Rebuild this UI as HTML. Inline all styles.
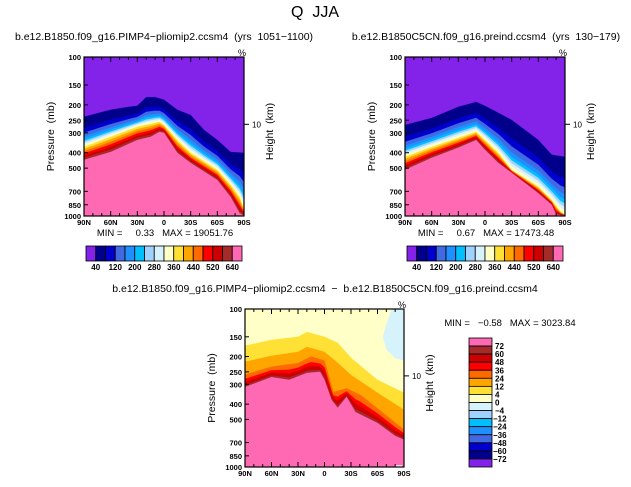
<!DOCTYPE html>
<html><head><meta charset="utf-8"><style>
html,body{margin:0;padding:0;background:#fff;width:631px;height:487px;overflow:hidden}
svg{display:block;font-family:"Liberation Sans",sans-serif}
text{white-space:pre}
</style></head><body>
<svg id="fig" width="631" height="487" viewBox="0 0 631 487" xmlns="http://www.w3.org/2000/svg">
<text x="315" y="17" font-size="16" text-anchor="middle">Q  JJA</text>
<text x="164" y="40" font-size="10.5" text-anchor="middle">b.e12.B1850.f09_g16.PIMP4−pliomip2.ccsm4  (yrs  1051−1100)</text>
<text x="486" y="40" font-size="10.5" text-anchor="middle">b.e12.B1850C5CN.f09_g16.preind.ccsm4  (yrs  130−179)</text>
<text x="325" y="292" font-size="10.5" text-anchor="middle">b.e12.B1850.f09_g16.PIMP4−pliomip2.ccsm4  −  b.e12.B1850C5CN.f09_g16.preind.ccsm4</text>
<text x="165" y="236" font-size="9.5" text-anchor="middle">MIN =     0.33   MAX = 19051.76</text>
<text x="486" y="236" font-size="9.5" text-anchor="middle">MIN =     0.67   MAX = 17473.48</text>
<text x="510" y="326" font-size="9.5" text-anchor="middle">MIN =   −0.58   MAX = 3023.84</text>
</svg>
<script>
// ---- data ----
const seqColors = ["#8322e8","#00008b","#0000cd","#4169e1","#1e90ff","#00bfff","#a0d2ff","#d6f3fc","#ffffc8","#ffe135","#ffa500","#ff6a00","#ff0000","#cc0000","#a52a2a","#ff69b4"];
const seqLabels = ["40","120","200","280","360","440","520","640"];
const diffColors = ["#ff69b4","#a52a2a","#cc0000","#ff0000","#ff6a00","#ffa500","#ffe135","#ffffc8","#d6f3fc","#a0d2ff","#00bfff","#1e90ff","#4169e1","#0000cd","#00008b","#8322e8"];
const diffLabels = ["72","60","48","36","24","12","4","0","−4","−12","−24","−36","−48","−60","−72"];
const pTicks = [100,150,200,250,300,400,500,700,850,1000];
const latTicks = [90,60,30,0,-30,-60,-90];
const latTickLabels = ["90N","60N","30N","0","30S","60S","90S"];
// panel 1 contours (lat, pressure mb)
const p1c40Lat = [90,60,40,30,20,10,0,-15,-30,-45,-60,-75,-90];
const p1c40P   = [238,215,206,203,179,179,186,215,232,288,333,396,401];
const p1c360Lat = [90,60,30,5,0,-15,-30,-60,-75,-85,-90];
const p1c360P   = [368,318,275,256,268,333,401,513,638,760,900];
const p1c640Lat = [90,60,30,15,5,0,-15,-30,-60,-75,-85,-90];
const p1c640P   = [444,396,333,318,296,300,401,464,594,760,960,1000];
// panel 2 contours
const p2c40Lat = [90,60,30,10,0,-30,-60,-75,-90];
const p2c40P   = [268,242,206,192,203,249,333,412,425];
const p2c360Lat = [90,60,30,10,0,-15,-30,-60,-75,-85,-90];
const p2c360P   = [425,368,323,296,333,401,513,656,794,940,980];
const p2c640Lat = [90,60,30,10,0,-15,-30,-60,-75,-80,-90];
const p2c640P   = [513,431,372,333,384,464,535,720,850,980,1000];
// panel 3 difference contours
const d4Lat = [90,60,30,20,0,-15,-30,-60,-90];
const d4P   = [171,157,150,140,150,164,204,281,339];
const d12Lat = [90,60,30,20,0,-15,-30,-60,-90];
const d12P   = [216,198,187,174,187,219,262,339,435];
const d24Lat = [90,60,30,15,0,-10,-25,-40,-60,-90];
const d24P   = [260,232,220,200,212,335,318,348,425,580];
const d72Lat = [90,60,40,20,5,0,-8,-15,-25,-35,-60,-80,-90];
const d72P   = [312,270,281,254,250,281,377,422,360,449,527,636,673];
const zeroLat = [-76,-70,-66,-70,-80,-90];
const zeroP   = [100,125,150,180,205,212];
// relative spacing of the 40..360 contours between the two anchor contours
const upperFrac = [0,0.37,0.53,0.65,0.74,0.81,0.87,0.93,1];

const NS="http://www.w3.org/2000/svg";
const svg=document.getElementById('fig');
function mk(tag,attrs,parent){const e=document.createElementNS(NS,tag);for(const k in attrs)e.setAttribute(k,attrs[k]);(parent||svg).appendChild(e);return e;}
function interp(lats,ps,lat){
  if(lat>=lats[0])return Math.log(ps[0]);
  for(let i=0;i<lats.length-1;i++){if(lat<=lats[i]&&lat>=lats[i+1]){const t=(lats[i]-lat)/(lats[i]-lats[i+1]);return Math.log(ps[i])*(1-t)+Math.log(ps[i+1])*t;}}
  return Math.log(ps[ps.length-1]);
}
function axes(P){
  const X=lat=>P.x+(90-lat)/180*P.w;
  const Y=p=>P.y+Math.log10(p/100)*P.h;
  return {X,Y};
}
function fillBelow(P,A,logps,color,name){
  let d="";const N=logps.length;
  for(let i=0;i<N;i++){const lat=90-180*i/(N-1);const p=Math.min(1000,Math.max(100,Math.exp(logps[i])));d+=(i?"L":"M")+A.X(lat).toFixed(2)+","+A.Y(p).toFixed(2);}
  d+="L"+A.X(-90)+","+A.Y(1000)+"L"+A.X(90)+","+A.Y(1000)+"Z";
  const e=mk('path',{d:d,fill:color,stroke:color,'stroke-width':0.3});
  
  
}
function grid(lats,ps){const a=[];for(let i=0;i<=180;i++)a.push(interp(lats,ps,90-i));return a;}
function seqPanel(P,c40L,c40P,c360L,c360P,c640L,c640P,tag){
  const A=axes(P);
  const bg=mk('rect',{x:P.x,y:P.y,width:P.w,height:P.h,fill:seqColors[0]});
  
  
  const g40=grid(c40L,c40P),g360=grid(c360L,c360P),g640=grid(c640L,c640P);
  for(let b=0;b<15;b++){
    const lp=g40.map((v,i)=>{ if(b<=8){const t=upperFrac[b];return v*(1-t)+g360[i]*t;} const t=(b-8)/6;return g360[i]*(1-t)+g640[i]*t;});
    fillBelow(P,A,lp,seqColors[b+1],tag+'-band-'+(b+1));
  }
  const w=mk('rect',{x:A.X(-88),y:A.Y(990),width:A.X(-90)-A.X(-88),height:A.Y(1000)-A.Y(990),fill:'#fff'});
  
  
  frame(P,A,tag);
}
function frame(P,A,tag){
  const r=mk('rect',{x:P.x,y:P.y,width:P.w,height:P.h,fill:'none',stroke:'#000','stroke-width':1.2});
  
  
  pTicks.forEach(p=>{
    const y=A.Y(p);
    mk('line',{x1:P.x,x2:P.x+4,y1:y,y2:y,stroke:'#000','stroke-width':1});
    const t=mk('text',{x:P.x-3,y:y+3,'font-size':7.5,'font-weight':'bold','text-anchor':'end'});t.textContent=p;
    
    
  });
  for(let lat=90;lat>=-90;lat-=10){
    const x=A.X(lat);const maj=lat%30===0;const L=maj?5:3;
    mk('line',{x1:x,x2:x,y1:P.y+P.h,y2:P.y+P.h-L,stroke:'#000','stroke-width':1});
    mk('line',{x1:x,x2:x,y1:P.y,y2:P.y+L,stroke:'#000','stroke-width':1});
  }
  latTicks.forEach((lat,i)=>{
    const t=mk('text',{x:A.X(lat),y:P.y+P.h+9,'font-size':7.5,'font-weight':'bold','text-anchor':'middle'});t.textContent=latTickLabels[i];
    
    
  });
  const yh=A.Y(265);
  mk('line',{x1:P.x+P.w,x2:P.x+P.w+5,y1:yh,y2:yh,stroke:'#000','stroke-width':1});
  const h=mk('text',{x:P.x+P.w+8,y:yh+3,'font-size':8});h.textContent="10";
  
  
  const pc=mk('text',{x:P.x+P.w-2,y:P.y-1,'font-size':9,'text-anchor':'middle'});pc.textContent="%";
  
  
  const cy=P.y+P.h/2;
  const yl=mk('text',{x:P.x-30,y:cy,'font-size':10.5,'text-anchor':'middle',transform:`rotate(-90 ${P.x-30} ${cy})`});yl.textContent="Pressure  (mb)";
  
  
  const hl=mk('text',{x:P.x+P.w+29,y:cy-5,'font-size':10.5,'text-anchor':'middle',transform:`rotate(-90 ${P.x+P.w+29} ${cy-5})`});hl.textContent="Height  (km)";
  
  
}
function hbar(x,y,w,h,tag){
  const bw=w/16;
  seqColors.forEach((c,i)=>{const r=mk('rect',{x:x+i*bw,y:y,width:bw,height:h,fill:c,stroke:'#000','stroke-width':0.8});
    
    });
  seqLabels.forEach((l,i)=>{const t=mk('text',{x:x+(2*i+1)*bw,y:y+h+9,'font-size':8,'font-weight':'bold','text-anchor':'middle'});t.textContent=l;
    
    });
}
seqPanel({x:84,y:57,w:160,h:159},p1c40Lat,p1c40P,p1c360Lat,p1c360P,p1c640Lat,p1c640P,'panel1');
seqPanel({x:405,y:57,w:160,h:159},p2c40Lat,p2c40P,p2c360Lat,p2c360P,p2c640Lat,p2c640P,'panel2');
hbar(86,246,156,15,'panel1');
hbar(407,246,156,15,'panel2');

// panel 3
(function(){
  const P={x:245,y:309,w:159,h:158};const A=axes(P);
  const bg=mk('rect',{x:P.x,y:P.y,width:P.w,height:P.h,fill:diffColors[7]});
  
  
  let d="";zeroLat.forEach((l,i)=>{d+=(i?"L":"M")+A.X(l)+","+A.Y(zeroP[i]);});
  d+="L"+A.X(-90)+","+A.Y(100)+"Z";
  const z=mk('path',{d:d,fill:diffColors[8]});
  
  
  const g4=grid(d4Lat,d4P),g12=grid(d12Lat,d12P),g24=grid(d24Lat,d24P),g72=grid(d72Lat,d72P);
  fillBelow(P,A,g4,diffColors[6],'panel3-band-4');
  fillBelow(P,A,g12,diffColors[5],'panel3-band-12');
  for(let k=0;k<4;k++){const t=k/4+ (k?0.1:0);const lp=g24.map((v,i)=>v*(1-Math.min(1,t))+g72[i]*Math.min(1,t));
    fillBelow(P,A,lp,diffColors[4-k],'panel3-band-'+(24+12*k));}
  fillBelow(P,A,g72,diffColors[0],'panel3-band-72');
  const w=mk('rect',{x:A.X(-80),y:A.Y(975),width:A.X(-88)-A.X(-80),height:A.Y(1000)-A.Y(975),fill:'#fff'});
  
  
  frame(P,A,'panel3');
  const x=469,y=338,bw=23,bh=129/16;
  diffColors.forEach((c,i)=>{const r=mk('rect',{x:x,y:y+i*bh,width:bw,height:bh,fill:c,stroke:'#000','stroke-width':0.8});
    
    });
  diffLabels.forEach((l,i)=>{const t=mk('text',{x:x+bw+3+(l.length>2?-2:0),y:y+(i+1)*bh+3,'font-size':8,'font-weight':'bold'});t.textContent=l;
    
    });
})();
</script>
</body></html>
